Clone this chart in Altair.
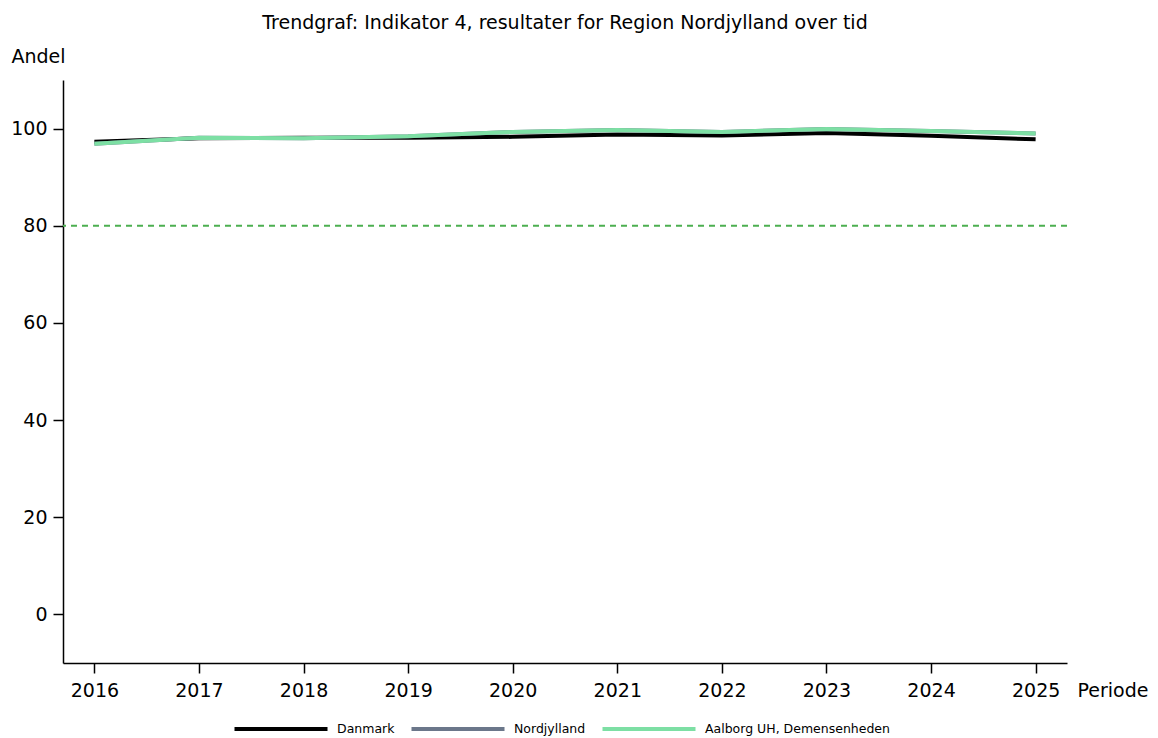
import altair as alt
import pandas as pd

years = [2016, 2017, 2018, 2019, 2020, 2021, 2022, 2023, 2024, 2025]
danmark = [97.3, 98.0, 98.1, 98.1, 98.3, 98.8, 98.6, 99.1, 98.5, 97.8]
nordjylland = [96.9, 98.1, 98.0, 98.4, 99.3, 99.7, 99.3, 99.9, 99.5, 99.0]
aalborg = [96.9, 98.1, 98.0, 98.4, 99.3, 99.7, 99.3, 99.9, 99.5, 99.0]
series_names = ["Danmark", "Nordjylland", "Aalborg UH, Demensenheden"]
series_colors = ["#000000", "#6b778a", "#7ddfa4"]
target = 80

rows = []
for name, vals in zip(series_names, [danmark, nordjylland, aalborg]):
    for i, (yr, v) in enumerate(zip(years, vals)):
        rows.append({"Periode": yr, "Andel": v, "Serie": name, "order": series_names.index(name)})
df = pd.DataFrame(rows)

FONT = "DejaVu Sans"
FS = 19

x_scale = alt.Scale(domain=[2015.7, 2025.3], nice=False, zero=False)
y_scale = alt.Scale(domain=[-10, 110], nice=False, zero=False)

lines = alt.Chart(df).mark_line(strokeWidth=4, strokeCap="butt").encode(
    x=alt.X("Periode:Q", scale=x_scale,
            axis=alt.Axis(values=years, format="d", grid=False, title="Periode",
                          titleAngle=0, titleX=1014, titleY=27, titleAlign="left",
                          titleBaseline="middle", titleFontWeight="normal",
                          titleFontSize=FS, titleFont=FONT, titleColor="#000",
                          labelFontSize=FS, labelFont=FONT, labelColor="#000",
                          labelPadding=8, tickSize=10, tickColor="#000",
                          domainColor="#000", domainWidth=1.5, tickWidth=1.5)),
    y=alt.Y("Andel:Q", scale=y_scale,
            axis=alt.Axis(values=[0, 20, 40, 60, 80, 100], grid=False, title="Andel",
                          titleAngle=0, titleX=-52, titleY=-24, titleAlign="left",
                          titleBaseline="middle", titleFontWeight="normal",
                          titleFontSize=FS, titleFont=FONT, titleColor="#000",
                          labelFontSize=FS, labelFont=FONT, labelColor="#000",
                          labelPadding=6, tickSize=10, tickColor="#000",
                          domainColor="#000", domainWidth=1.5, tickWidth=1.5)),
    color=alt.Color("Serie:N", scale=alt.Scale(domain=series_names, range=series_colors),
                    legend=alt.Legend(title=None, orient="none", direction="horizontal",
                                      legendX=169, legendY=600,
                                      symbolType="stroke", symbolSize=8650,
                                      symbolStrokeWidth=4, labelFontSize=12.5,
                                      labelFont=FONT, labelColor="#000", labelLimit=400,
                                      columnPadding=8, labelOffset=7)),
    detail="Serie:N",
    order=alt.Order("order:Q"),
)

ref = alt.Chart(pd.DataFrame({"y": [target]})).mark_rule(
    color="#4caf50", strokeDash=[6, 5], strokeWidth=1.8
).encode(y=alt.Y("y:Q", scale=y_scale))

chart = alt.layer(ref, lines).properties(
    width=1004, height=583,
    padding={"left": 55, "top": 72, "right": 83, "bottom": 75},
    autosize=alt.AutoSizeParams(type="none"),
    title=alt.TitleParams("Trendgraf: Indikator 4, resultater for Region Nordjylland over tid",
                          font=FONT, fontSize=FS, fontWeight="normal", color="#000",
                          anchor="middle", offset=14),
).configure_view(stroke=None)

chart.save("out.html", embed_options={"renderer": "svg", "actions": False})
